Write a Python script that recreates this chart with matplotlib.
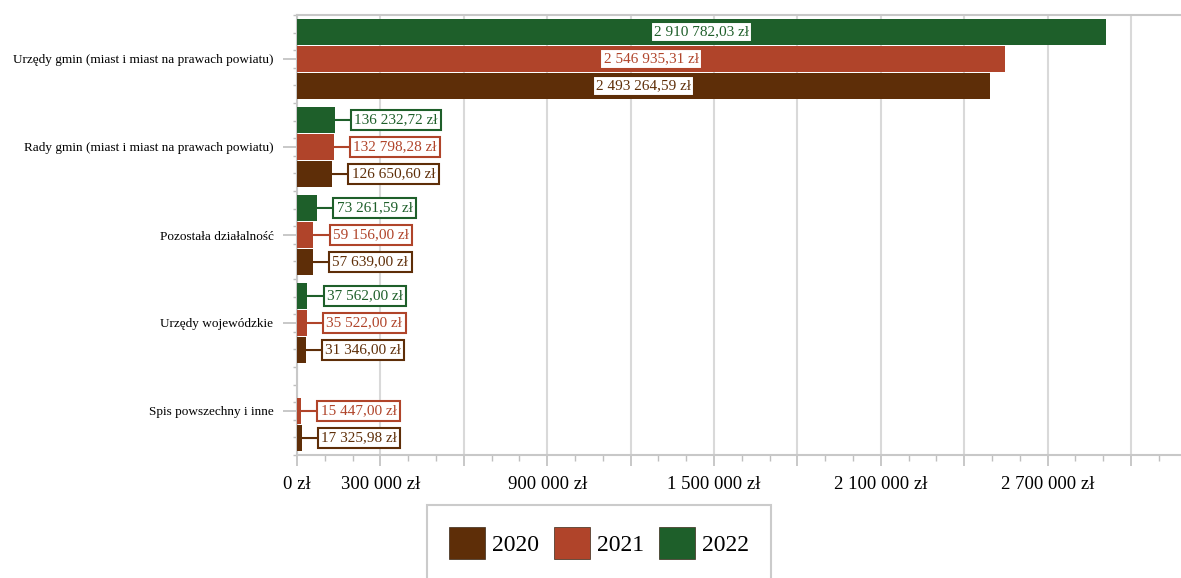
import matplotlib.pyplot as plt
import numpy as np

plt.rcParams['font.family'] = ['Liberation Serif', 'DejaVu Serif']

# data
categories = [
    'Urzędy gmin (miast i miast na prawach powiatu)',
    'Rady gmin (miast i miast na prawach powiatu)',
    'Pozostała działalność',
    'Urzędy wojewódzkie',
    'Spis powszechny i inne',
]
years = ['2020', '2021', '2022']
vals_2020 = [2493264.59, 126650.60, 57639.00, 31346.00, 17325.98]
vals_2021 = [2546935.31, 132798.28, 59156.00, 35522.00, 15447.00]
vals_2022 = [2910782.03, 136232.72, 73261.59, 37562.00, None]

tick_values = [0, 300000, 600000, 900000, 1200000, 1500000, 1800000,
               2100000, 2400000, 2700000, 3000000]
tick_labels = ['0 zł', '300 000 zł', '', '900 000 zł', '', '1 500 000 zł', '',
               '2 100 000 zł', '', '2 700 000 zł', '']

colors = {'2020': '#5e2e08', '2021': '#b0442a', '2022': '#1e5f2a'}
series = {'2020': vals_2020, '2021': vals_2021, '2022': vals_2022}
offsets = {'2022': -0.307, '2021': 0.0, '2020': 0.307}


def fmt(v):
    s = f"{v:,.2f}".replace(',', ' ').replace('.', ',')
    return s + ' zł'


fig = plt.figure(figsize=(11.81, 5.78), dpi=100)
ax = fig.add_axes([297 / 1181, 1 - 455 / 578, 1 - 297 / 1181, (455 - 15) / 578])

y = np.arange(len(categories))
for yr in years:
    c = colors[yr]
    for i, v in enumerate(series[yr]):
        if v is None:
            continue
        yy = y[i] + offsets[yr]
        ax.barh(yy, v, height=0.285, color=c, zorder=3)
        box = dict(boxstyle='square,pad=0.22', fc='white', ec=c, lw=1.5)
        if v > 500000:
            ax.text(v / 2, yy, fmt(v), ha='center', va='center', fontsize=11,
                    color=c, bbox=box, zorder=5)
        else:
            ax.annotate(fmt(v), xy=(v, yy), xytext=(14, 0), textcoords='offset points',
                        ha='left', va='center', fontsize=11, color=c, bbox=box,
                        arrowprops=dict(arrowstyle='-', color=c, lw=1.5,
                                        shrinkA=0, shrinkB=0), zorder=5)

ax.set_xlim(0, 3180000)
ax.set_ylim(len(categories) - 0.5, -0.5)

ax.set_xticks(tick_values)
ax.set_xticklabels(tick_labels, fontsize=13.5)
ax.set_xticks(np.arange(0, 3180000, 100000), minor=True)
ax.tick_params(axis='x', which='major', length=8, width=1.2, color='#bfbfbf',
               direction='out', pad=7)
ax.tick_params(axis='x', which='minor', length=4, width=1.0, color='#bfbfbf',
               direction='out')

ax.set_yticks(y)
ax.set_yticklabels(categories, fontsize=9.5)
ax.set_yticks(np.arange(-0.5, len(categories) - 0.4, 0.2), minor=True)
ax.tick_params(axis='y', which='major', length=10, width=1.2, color='#bfbfbf', pad=7)
ax.tick_params(axis='y', which='minor', length=3, width=1.0, color='#bfbfbf')

ax.grid(axis='x', which='major', color='#d9d9d9', lw=1.5, zorder=0)
for s in ax.spines.values():
    s.set_color('#c8c8c8')
    s.set_linewidth(1.5)
ax.spines['right'].set_visible(False)

handles = [plt.Rectangle((0, 0), 1, 1, fc=colors[yr], ec='#3a2a1a', lw=0.5) for yr in years]
leg = fig.legend(handles, years, loc='upper left',
                 bbox_to_anchor=(427 / 1181, 1 - 505 / 578), ncol=3,
                 fontsize=17, handlelength=1.5, handleheight=1.65,
                 handletextpad=0.3, columnspacing=0.65, borderpad=0.95,
                 borderaxespad=0, frameon=True, fancybox=False)
leg.get_frame().set_edgecolor('#bfbfbf')
leg.get_frame().set_linewidth(1.5)

fig.savefig('out.png', dpi=100)
